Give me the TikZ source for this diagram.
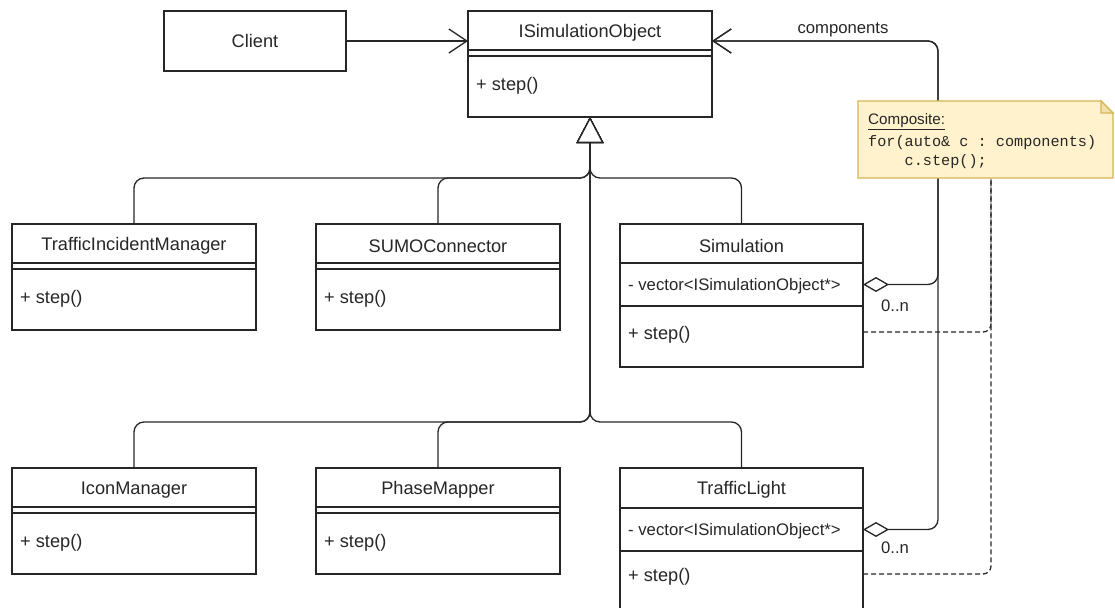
\documentclass[tikz,border=0pt]{standalone}
\usepackage{fontspec}
\setmainfont{Liberation Sans}
\setmonofont{Liberation Mono}
\usetikzlibrary{arrows.meta,calc}
\definecolor{ink}{HTML}{262626}
\definecolor{notefill}{HTML}{FFF2CC}
\definecolor{noteline}{HTML}{D6B656}
\newcommand\plainclass[5]{%
  \node[clsbox, minimum width=#4pt, minimum height=106pt] (#1) at (#2,#3) {};
  \node[ttl] (#1-t) at ($(#1.north)+(0,19.5)$) {#5};
  \draw[sepline] ($(#1.north west)+(0,39)$) -- ($(#1.north east)+(0,39)$);
  \draw[sepline] ($(#1.north west)+(0,45)$) -- ($(#1.north east)+(0,45)$);
  \node[member] (#1-s) at ($(#1.north west)+(8,72)$) {+ step()};
}
\begin{document}
\begin{tikzpicture}[x=1pt,y=-1pt,
  clsbox/.style={draw=ink, line width=1.3pt, anchor=north west, inner sep=0pt, outer sep=0pt},
  ttl/.style={font=\fontsize{18.2pt}{21pt}\selectfont, text=ink, inner sep=0pt, yshift=-2.5pt},
  member/.style={font=\fontsize{18.2pt}{21pt}\selectfont, text=ink, inner sep=0pt, anchor=west, yshift=-3pt},
  attr/.style={font=\fontsize{16.7pt}{19pt}\selectfont, text=ink, inner sep=0pt, anchor=west, yshift=-1.5pt},
  sepline/.style={draw=ink, line width=1.3pt},
  row/.style={anchor=north west, minimum width=243pt, inner sep=0pt, outer sep=0pt},
  lbl/.style={font=\fontsize{16.7pt}{19pt}\selectfont, text=ink, inner sep=0pt, yshift=-2.5pt},
  notetxt/.style={text=ink, inner sep=0pt, anchor=west, yshift=-2pt},
  gen/.style={draw=ink, line width=1.3pt, rounded corners=10pt, -{Triangle[length=26pt,width=27pt,fill=white]}},
  assoc/.style={draw=ink, line width=1.3pt, -{Straight Barb[length=18pt,width=24pt]}},
  agg/.style={draw=ink, line width=1.3pt, rounded corners=10pt, {Diamond[length=26pt,width=15pt,fill=white]}-{Straight Barb[length=18pt,width=24pt]}},
  dep/.style={draw=ink, line width=1.3pt, dash pattern=on 5pt off 3pt, rounded corners=8pt}
]
\useasboundingbox (0,0) rectangle (1115,607);
\clip (0,0) rectangle (1115,607);

% Client
\node[clsbox, minimum width=182pt, minimum height=60pt, font=\fontsize{18.2pt}{21pt}\selectfont, text=ink, text depth=0pt] (client) at (164,11) {Client};

% plain classes
\plainclass{iso}{468}{11}{244}{ISimulationObject}
\plainclass{tim}{12}{224}{244}{TrafficIncidentManager}
\plainclass{sumo}{316}{224}{244}{SUMOConnector}
\plainclass{icon}{12}{468}{244}{IconManager}
\plainclass{phase}{316}{468}{244}{PhaseMapper}

% Simulation
\node[clsbox, minimum width=243pt, minimum height=143pt] (sim) at (620,224) {};
\node[ttl] (sim-t) at ($(sim.north)+(0,19.5)$) {Simulation};
\draw[sepline] ($(sim.north west)+(0,39)$) -- ($(sim.north east)+(0,39)$);
\node[row, minimum height=43pt] (sim-a) at ($(sim.north west)+(0,39)$) {};
\node[attr] (sim-at) at ($(sim-a.west)+(8,0)$) {- vector<ISimulationObject*>};
\draw[sepline] (sim-a.south west) -- (sim-a.south east);
\node[row, minimum height=52pt] (sim-s) at (sim-a.south west) {};
\node[member] (sim-st) at ($(sim-s.west)+(8,0)$) {+ step()};

% TrafficLight
\node[clsbox, minimum width=243pt, minimum height=152pt] (tl) at (620,468) {};
\node[ttl] (tl-t) at ($(tl.north)+(0,19.5)$) {TrafficLight};
\draw[sepline] ($(tl.north west)+(0,40)$) -- ($(tl.north east)+(0,40)$);
\node[row, minimum height=43pt] (tl-a) at ($(tl.north west)+(0,40)$) {};
\node[attr] (tl-at) at ($(tl-a.west)+(8,0)$) {- vector<ISimulationObject*>};
\draw[sepline] (tl-a.south west) -- (tl-a.south east);
\node[row, minimum height=46pt] (tl-s) at (tl-a.south west) {};
\node[member] (tl-st) at ($(tl-s.west)+(8,0)$) {+ step()};

% note placeholder
\node[anchor=north west, minimum width=255pt, minimum height=77pt, inner sep=0pt, outer sep=0pt] (note) at (858,101) {};

% bus points
\coordinate (busU) at (590,178);
\coordinate (busL) at (590,422);
\coordinate (cbend) at (938,41);

% association client -> iso
\draw[assoc] (client.east) -- (client.east -| iso.west);

% generalizations
\draw[gen] (tim.north) |- (busU) -- (iso.south);
\draw[gen] (sumo.north) |- (busU) -- (iso.south);
\draw[gen] (sim.north) |- (busU) -- (iso.south);
\draw[gen] (icon.north) |- (busL) -- (iso.south);
\draw[gen] (phase.north) |- (busL) -- (iso.south);
\draw[gen] (tl.north) |- (busL) -- (iso.south);

% aggregations
\draw[agg] (sim-a.east) -| (cbend) -- (cbend -| iso.east);
\draw[agg] (tl-a.east) -| (cbend) -- (cbend -| iso.east);
\node[lbl] (lcomp) at (843,27) {components};
\node[lbl] (lsim) at (895,303) {0..n};
\node[lbl] (ltl) at (895,545) {0..n};

% dependencies to note
\draw[dep] (sim-s.east) -| ($(note.south)+(5.5,0)$);
\draw[dep] (tl-s.east) -| ($(note.south)+(5.5,0)$);

% note shape
\draw[fill=notefill, draw=noteline, line width=1.2pt]
  (note.south west) -- (note.north west) -- ($(note.north east)+(-12,0)$)
  -- ($(note.north east)+(0,12)$) -- (note.south east) -- cycle;
\draw[draw=noteline, line width=1.2pt, fill=notefill!70!noteline]
  ($(note.north east)+(-12,0)$) -- ($(note.north east)+(-12,12)$) -- ($(note.north east)+(0,12)$) -- cycle;
\node[notetxt, font=\fontsize{15.2pt}{18pt}\selectfont] (n1) at (868,120) {\underline{Composite:}};
\node[notetxt, font=\ttfamily\fontsize{15.2pt}{18pt}\selectfont] (n2) at (868,141) {for(auto\& c : components)};
\node[notetxt, font=\ttfamily\fontsize{15.2pt}{18pt}\selectfont] (n3) at (868,160) {\phantom{for(}c.step();};
\end{tikzpicture}
\end{document}
